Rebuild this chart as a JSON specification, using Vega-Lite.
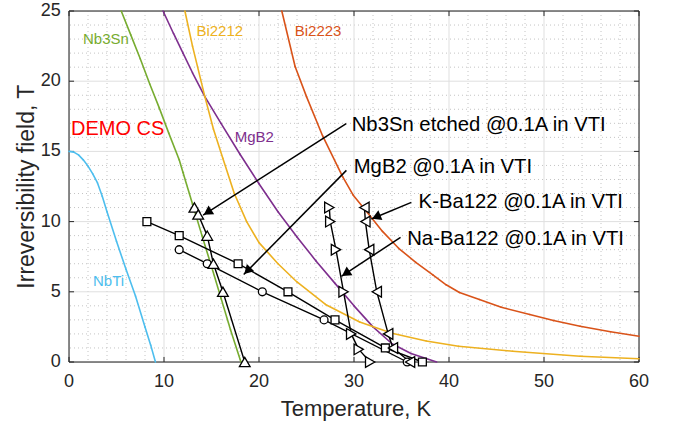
{
  "$schema": "https://vega.github.io/schema/vega-lite/v6.json",
  "width": 570,
  "height": 351,
  "autosize": {"type": "none"},
  "padding": {"left": 69, "top": 11, "right": 36, "bottom": 66},
  "datasets": {
    "curves": [
      {"sc": "NbTi", "T": 0, "H": 15}, {"sc": "NbTi", "T": 0.5, "H": 14.95}, {"sc": "NbTi", "T": 1, "H": 14.75},
      {"sc": "NbTi", "T": 1.5, "H": 14.4}, {"sc": "NbTi", "T": 2, "H": 13.95}, {"sc": "NbTi", "T": 2.5, "H": 13.4},
      {"sc": "NbTi", "T": 3, "H": 12.75}, {"sc": "NbTi", "T": 3.5, "H": 11.8}, {"sc": "NbTi", "T": 4, "H": 10.7},
      {"sc": "NbTi", "T": 5, "H": 8.6}, {"sc": "NbTi", "T": 6, "H": 6.6}, {"sc": "NbTi", "T": 7, "H": 4.7},
      {"sc": "NbTi", "T": 8, "H": 2.5}, {"sc": "NbTi", "T": 8.6, "H": 1.2}, {"sc": "NbTi", "T": 9.1, "H": 0},

      {"sc": "Nb3Sn", "T": 5.5, "H": 25}, {"sc": "Nb3Sn", "T": 6.5, "H": 23.3}, {"sc": "Nb3Sn", "T": 7.5, "H": 21.6},
      {"sc": "Nb3Sn", "T": 8.5, "H": 19.8}, {"sc": "Nb3Sn", "T": 9.5, "H": 18.1}, {"sc": "Nb3Sn", "T": 10.5, "H": 16.3},
      {"sc": "Nb3Sn", "T": 11.6, "H": 14.4}, {"sc": "Nb3Sn", "T": 12, "H": 13.5}, {"sc": "Nb3Sn", "T": 13, "H": 11.25},
      {"sc": "Nb3Sn", "T": 14, "H": 9.0}, {"sc": "Nb3Sn", "T": 15, "H": 6.8}, {"sc": "Nb3Sn", "T": 16, "H": 4.55},
      {"sc": "Nb3Sn", "T": 17, "H": 2.3}, {"sc": "Nb3Sn", "T": 18.1, "H": 0},

      {"sc": "MgB2", "T": 9.9, "H": 25}, {"sc": "MgB2", "T": 11, "H": 23.4}, {"sc": "MgB2", "T": 12, "H": 22.0},
      {"sc": "MgB2", "T": 13, "H": 20.6}, {"sc": "MgB2", "T": 14.3, "H": 18.9}, {"sc": "MgB2", "T": 16, "H": 17.0},
      {"sc": "MgB2", "T": 18, "H": 14.8}, {"sc": "MgB2", "T": 20, "H": 12.7}, {"sc": "MgB2", "T": 22, "H": 10.7},
      {"sc": "MgB2", "T": 24, "H": 8.9}, {"sc": "MgB2", "T": 26, "H": 7.2}, {"sc": "MgB2", "T": 28, "H": 5.6},
      {"sc": "MgB2", "T": 30, "H": 4.0}, {"sc": "MgB2", "T": 32, "H": 2.5}, {"sc": "MgB2", "T": 34, "H": 1.3},
      {"sc": "MgB2", "T": 36, "H": 0.6}, {"sc": "MgB2", "T": 38.7, "H": 0},

      {"sc": "Bi2212", "T": 12.2, "H": 25}, {"sc": "Bi2212", "T": 13, "H": 22.5}, {"sc": "Bi2212", "T": 14.3, "H": 18.9},
      {"sc": "Bi2212", "T": 15.2, "H": 16.6}, {"sc": "Bi2212", "T": 16.2, "H": 14.5}, {"sc": "Bi2212", "T": 17.4, "H": 12.0},
      {"sc": "Bi2212", "T": 18.7, "H": 10.0}, {"sc": "Bi2212", "T": 20, "H": 8.5}, {"sc": "Bi2212", "T": 22, "H": 7.0},
      {"sc": "Bi2212", "T": 24, "H": 5.7}, {"sc": "Bi2212", "T": 27, "H": 4.1}, {"sc": "Bi2212", "T": 30.6, "H": 2.85},
      {"sc": "Bi2212", "T": 34, "H": 2.05}, {"sc": "Bi2212", "T": 37.6, "H": 1.5}, {"sc": "Bi2212", "T": 41, "H": 1.12},
      {"sc": "Bi2212", "T": 46.7, "H": 0.77}, {"sc": "Bi2212", "T": 53.8, "H": 0.41}, {"sc": "Bi2212", "T": 60, "H": 0.23},

      {"sc": "Bi2223", "T": 22.4, "H": 25}, {"sc": "Bi2223", "T": 23.8, "H": 21.05}, {"sc": "Bi2223", "T": 25, "H": 18.9},
      {"sc": "Bi2223", "T": 26.7, "H": 16.1}, {"sc": "Bi2223", "T": 28.8, "H": 13.2}, {"sc": "Bi2223", "T": 29.9, "H": 11.9},
      {"sc": "Bi2223", "T": 31.7, "H": 10.4}, {"sc": "Bi2223", "T": 33, "H": 9.3}, {"sc": "Bi2223", "T": 34.7, "H": 8.1},
      {"sc": "Bi2223", "T": 36.5, "H": 7.1}, {"sc": "Bi2223", "T": 38.3, "H": 6.2}, {"sc": "Bi2223", "T": 39.7, "H": 5.5},
      {"sc": "Bi2223", "T": 41.1, "H": 4.95}, {"sc": "Bi2223", "T": 43.2, "H": 4.45}, {"sc": "Bi2223", "T": 45.5, "H": 3.9},
      {"sc": "Bi2223", "T": 48.5, "H": 3.38}, {"sc": "Bi2223", "T": 51, "H": 2.95}, {"sc": "Bi2223", "T": 53.8, "H": 2.55},
      {"sc": "Bi2223", "T": 57, "H": 2.15}, {"sc": "Bi2223", "T": 60, "H": 1.84}
    ],
    "meas": [
      {"s": "Nb3Sn etched", "T": 13.2, "H": 11}, {"s": "Nb3Sn etched", "T": 13.6, "H": 10.5},
      {"s": "Nb3Sn etched", "T": 14.55, "H": 9}, {"s": "Nb3Sn etched", "T": 15.2, "H": 7},
      {"s": "Nb3Sn etched", "T": 16.2, "H": 5}, {"s": "Nb3Sn etched", "T": 18.5, "H": 0},

      {"s": "MgB2 A", "T": 8.2, "H": 10}, {"s": "MgB2 A", "T": 11.6, "H": 9}, {"s": "MgB2 A", "T": 17.8, "H": 7},
      {"s": "MgB2 A", "T": 23.05, "H": 5}, {"s": "MgB2 A", "T": 28.0, "H": 3}, {"s": "MgB2 A", "T": 33.3, "H": 1},
      {"s": "MgB2 A", "T": 37.2, "H": 0},

      {"s": "MgB2 B", "T": 11.6, "H": 8}, {"s": "MgB2 B", "T": 14.55, "H": 7}, {"s": "MgB2 B", "T": 20.35, "H": 5},
      {"s": "MgB2 B", "T": 26.85, "H": 3}, {"s": "MgB2 B", "T": 35.6, "H": 0},

      {"s": "Na-Ba122", "T": 27.4, "H": 11}, {"s": "Na-Ba122", "T": 27.5, "H": 10}, {"s": "Na-Ba122", "T": 28.1, "H": 8},
      {"s": "Na-Ba122", "T": 28.9, "H": 5}, {"s": "Na-Ba122", "T": 29.7, "H": 2}, {"s": "Na-Ba122", "T": 30.5, "H": 0.9},
      {"s": "Na-Ba122", "T": 31.7, "H": 0},

      {"s": "K-Ba122", "T": 31.1, "H": 11}, {"s": "K-Ba122", "T": 31.2, "H": 10}, {"s": "K-Ba122", "T": 31.6, "H": 8},
      {"s": "K-Ba122", "T": 32.4, "H": 5}, {"s": "K-Ba122", "T": 33.6, "H": 2}, {"s": "K-Ba122", "T": 34.1, "H": 1},
      {"s": "K-Ba122", "T": 35.9, "H": 0}
    ],
    "arrows": [
      {"lab": "Nb3Sn etched @0.1A in VTI", "x1": 29.18, "y1": 16.97, "x2": 14.12, "y2": 10.46, "tx": 29.76, "ty": 16.9},
      {"lab": "MgB2 @0.1A in VTI", "x1": 29.2, "y1": 13.65, "x2": 18.39, "y2": 6.23, "tx": 29.97, "ty": 13.9},
      {"lab": "K-Ba122 @0.1A in VTI", "x1": 36.04, "y1": 11.37, "x2": 31.83, "y2": 10.19, "tx": 36.8, "ty": 11.37},
      {"lab": "Na-Ba122 @0.1A in VTI", "x1": 34.9, "y1": 8.88, "x2": 28.67, "y2": 6.1, "tx": 35.6, "ty": 8.77}
    ],
    "curvelabels": [
      {"sc": "Nb3Sn", "T": 1.47, "H": 23.0},
      {"sc": "Bi2212", "T": 13.41, "H": 23.6},
      {"sc": "Bi2223", "T": 23.76, "H": 23.6},
      {"sc": "MgB2", "T": 17.44, "H": 16.0},
      {"sc": "NbTi", "T": 2.53, "H": 5.8}
    ],
    "demo": [
      {"name": "DEMO CS", "T": 4.9, "H": 18.0, "lT": 5.12, "lH": 16.58}
    ],
    "gridx": [
      {"v": 2}, {"v": 4}, {"v": 6}, {"v": 8}, {"v": 12}, {"v": 14}, {"v": 16}, {"v": 18}, {"v": 22}, {"v": 24}, {"v": 26}, {"v": 28},
      {"v": 32}, {"v": 34}, {"v": 36}, {"v": 38}, {"v": 42}, {"v": 44}, {"v": 46}, {"v": 48}, {"v": 52}, {"v": 54}, {"v": 56}, {"v": 58}
    ],
    "gridy": [
      {"v": 1}, {"v": 2}, {"v": 3}, {"v": 4}, {"v": 6}, {"v": 7}, {"v": 8}, {"v": 9}, {"v": 11}, {"v": 12}, {"v": 13}, {"v": 14},
      {"v": 16}, {"v": 17}, {"v": 18}, {"v": 19}, {"v": 21}, {"v": 22}, {"v": 23}, {"v": 24}
    ],
    "xticks": [{"v": 0, "lab": "0"}, {"v": 10, "lab": "10"}, {"v": 20, "lab": "20"}, {"v": 30, "lab": "30"}, {"v": 40, "lab": "40"}, {"v": 50, "lab": "50"}, {"v": 60, "lab": "60"}],
    "yticks": [{"v": 0, "lab": "0"}, {"v": 5, "lab": "5"}, {"v": 10, "lab": "10"}, {"v": 15, "lab": "15"}, {"v": 20, "lab": "20"}, {"v": 25, "lab": "25"}],
    "xframe": [{"v": 0}, {"v": 60}],
    "yframe": [{"v": 0}, {"v": 25}],
    "titles": [{"t": "Temperature, K"}],
    "ytitles": [{"t": "Irreversibility field, T"}]
  },
  "layer": [
    {
      "data": {"name": "gridx"},
      "mark": {"type": "rule", "color": "#c4c4c4", "strokeWidth": 1, "strokeDash": [1, 3]},
      "encoding": {
        "x": {"field": "v", "type": "quantitative", "scale": {"domain": [0, 60], "nice": false, "zero": false}, "axis": null}
      }
    },
    {
      "data": {"name": "gridy"},
      "mark": {"type": "rule", "color": "#c4c4c4", "strokeWidth": 1, "strokeDash": [1, 3]},
      "encoding": {
        "y": {"field": "v", "type": "quantitative", "scale": {"domain": [0, 25], "nice": false, "zero": false}, "axis": null}
      }
    },
    {
      "data": {"name": "xticks"},
      "mark": {"type": "rule", "color": "#dfdfdf", "strokeWidth": 1},
      "encoding": {"x": {"field": "v", "type": "quantitative", "axis": null}}
    },
    {
      "data": {"name": "yticks"},
      "mark": {"type": "rule", "color": "#dfdfdf", "strokeWidth": 1},
      "encoding": {"y": {"field": "v", "type": "quantitative", "axis": null}}
    },
    {
      "data": {"name": "xframe"},
      "mark": {"type": "rule", "color": "#262626", "strokeWidth": 1},
      "encoding": {"x": {"field": "v", "type": "quantitative", "axis": null}}
    },
    {
      "data": {"name": "yframe"},
      "mark": {"type": "rule", "color": "#262626", "strokeWidth": 1},
      "encoding": {"y": {"field": "v", "type": "quantitative", "axis": null}}
    },
    {
      "data": {"name": "xticks"},
      "mark": {"type": "rule", "color": "#262626", "strokeWidth": 1},
      "encoding": {
        "x": {"field": "v", "type": "quantitative", "axis": null},
        "y": {"datum": 0, "type": "quantitative", "axis": null},
        "y2": {"datum": 0.36}
      }
    },
    {
      "data": {"name": "xticks"},
      "mark": {"type": "rule", "color": "#262626", "strokeWidth": 1},
      "encoding": {
        "x": {"field": "v", "type": "quantitative", "axis": null},
        "y": {"datum": 25, "type": "quantitative", "axis": null},
        "y2": {"datum": 24.64}
      }
    },
    {
      "data": {"name": "yticks"},
      "mark": {"type": "rule", "color": "#262626", "strokeWidth": 1},
      "encoding": {
        "y": {"field": "v", "type": "quantitative", "axis": null},
        "x": {"datum": 0, "type": "quantitative", "axis": null},
        "x2": {"datum": 0.53}
      }
    },
    {
      "data": {"name": "yticks"},
      "mark": {"type": "rule", "color": "#262626", "strokeWidth": 1},
      "encoding": {
        "y": {"field": "v", "type": "quantitative", "axis": null},
        "x": {"datum": 60, "type": "quantitative", "axis": null},
        "x2": {"datum": 59.47}
      }
    },
    {
      "data": {"name": "xticks"},
      "mark": {"type": "text", "align": "center", "baseline": "middle", "fontSize": 18, "color": "#262626", "font": "Liberation Sans"},
      "encoding": {
        "x": {"field": "v", "type": "quantitative", "axis": null},
        "y": {"datum": -1.46, "type": "quantitative", "axis": null},
        "text": {"field": "lab", "type": "nominal"}
      }
    },
    {
      "data": {"name": "yticks"},
      "mark": {"type": "text", "align": "right", "baseline": "middle", "fontSize": 18, "color": "#262626", "font": "Liberation Sans"},
      "encoding": {
        "x": {"datum": -0.87, "type": "quantitative", "axis": null},
        "y": {"field": "v", "type": "quantitative", "axis": null},
        "text": {"field": "lab", "type": "nominal"}
      }
    },
    {
      "data": {"name": "titles"},
      "mark": {"type": "text", "align": "center", "baseline": "middle", "fontSize": 22, "color": "#262626", "font": "Liberation Sans"},
      "encoding": {
        "x": {"datum": 30.2, "type": "quantitative", "axis": null},
        "y": {"datum": -3.38, "type": "quantitative", "axis": null},
        "text": {"field": "t", "type": "nominal"}
      }
    },
    {
      "data": {"name": "ytitles"},
      "mark": {"type": "text", "align": "center", "baseline": "middle", "fontSize": 23, "color": "#262626", "font": "Liberation Sans", "angle": 270},
      "encoding": {
        "x": {"datum": -4.45, "type": "quantitative", "axis": null},
        "y": {"datum": 12.49, "type": "quantitative", "axis": null},
        "text": {"field": "t", "type": "nominal"}
      }
    },
    {
      "data": {"name": "curves"},
      "transform": [
        {"window": [{"op": "lead", "field": "T", "as": "T2"}, {"op": "lead", "field": "H", "as": "H2"}], "groupby": ["sc"], "sort": [{"field": "T", "order": "ascending"}]},
        {"filter": "datum.T2 != null"}
      ],
      "mark": {"type": "rule", "strokeWidth": 1.6, "strokeCap": "round"},
      "encoding": {
        "x": {"field": "T", "type": "quantitative", "axis": null},
        "y": {"field": "H", "type": "quantitative", "axis": null},
        "x2": {"field": "T2"},
        "y2": {"field": "H2"},
        "color": {
          "field": "sc", "type": "nominal",
          "scale": {"domain": ["NbTi", "Nb3Sn", "MgB2", "Bi2212", "Bi2223"], "range": ["#4DBEEE", "#77AC30", "#7E2F8E", "#EDB120", "#D95319"]},
          "legend": null
        }
      }
    },
    {
      "data": {"name": "meas"},
      "transform": [
        {"window": [{"op": "lead", "field": "T", "as": "T2"}, {"op": "lead", "field": "H", "as": "H2"}], "groupby": ["s"], "sort": [{"field": "T", "order": "ascending"}]},
        {"filter": "datum.T2 != null"}
      ],
      "mark": {"type": "rule", "color": "black", "strokeWidth": 1.4, "strokeCap": "round"},
      "encoding": {
        "x": {"field": "T", "type": "quantitative", "axis": null},
        "y": {"field": "H", "type": "quantitative", "axis": null},
        "x2": {"field": "T2"},
        "y2": {"field": "H2"}
      }
    },
    {
      "data": {"name": "meas"},
      "transform": [{"filter": "datum.s === 'MgB2 A' || datum.s === 'MgB2 B'"}],
      "mark": {"type": "point", "filled": true, "fill": "white", "stroke": "black", "strokeWidth": 1.3, "opacity": 1, "size": 62},
      "encoding": {
        "x": {"field": "T", "type": "quantitative", "axis": null},
        "y": {"field": "H", "type": "quantitative", "axis": null},
        "shape": {
          "field": "s", "type": "nominal",
          "scale": {"domain": ["Nb3Sn etched", "MgB2 A", "MgB2 B", "Na-Ba122", "K-Ba122"], "range": ["triangle-up", "square", "circle", "triangle-right", "triangle-left"]},
          "legend": null
        }
      }
    },
    {
      "data": {"name": "meas"},
      "transform": [{"filter": "datum.s !== 'MgB2 A' && datum.s !== 'MgB2 B'"}],
      "mark": {"type": "point", "filled": true, "fill": "white", "stroke": "black", "strokeWidth": 1.3, "opacity": 1, "size": 115},
      "encoding": {
        "x": {"field": "T", "type": "quantitative", "axis": null},
        "y": {"field": "H", "type": "quantitative", "axis": null},
        "shape": {"field": "s", "type": "nominal", "legend": null}
      }
    },
    {
      "data": {"name": "arrows"},
      "mark": {"type": "rule", "color": "black", "strokeWidth": 1.5},
      "encoding": {
        "x": {"field": "x1", "type": "quantitative", "axis": null},
        "y": {"field": "y1", "type": "quantitative", "axis": null},
        "x2": {"field": "x2"},
        "y2": {"field": "y2"}
      }
    },
    {
      "data": {"name": "arrows"},
      "transform": [{"filter": "datum.lab === 'Nb3Sn etched @0.1A in VTI'"}],
      "mark": {"type": "point", "filled": true, "color": "black", "opacity": 1, "shape": "triangle-right", "size": 110, "angle": 147.4, "xOffset": 4.4, "yOffset": -2.8},
      "encoding": {"x": {"field": "x2", "type": "quantitative", "axis": null}, "y": {"field": "y2", "type": "quantitative", "axis": null}}
    },
    {
      "data": {"name": "arrows"},
      "transform": [{"filter": "datum.lab === 'MgB2 @0.1A in VTI'"}],
      "mark": {"type": "point", "filled": true, "color": "black", "opacity": 1, "shape": "triangle-right", "size": 110, "angle": 134.6, "xOffset": 3.7, "yOffset": -3.7},
      "encoding": {"x": {"field": "x2", "type": "quantitative", "axis": null}, "y": {"field": "y2", "type": "quantitative", "axis": null}}
    },
    {
      "data": {"name": "arrows"},
      "transform": [{"filter": "datum.lab === 'K-Ba122 @0.1A in VTI'"}],
      "mark": {"type": "point", "filled": true, "color": "black", "opacity": 1, "shape": "triangle-right", "size": 110, "angle": 157.5, "xOffset": 4.8, "yOffset": -2.0},
      "encoding": {"x": {"field": "x2", "type": "quantitative", "axis": null}, "y": {"field": "y2", "type": "quantitative", "axis": null}}
    },
    {
      "data": {"name": "arrows"},
      "transform": [{"filter": "datum.lab === 'Na-Ba122 @0.1A in VTI'"}],
      "mark": {"type": "point", "filled": true, "color": "black", "opacity": 1, "shape": "triangle-right", "size": 110, "angle": 146.6, "xOffset": 4.4, "yOffset": -2.9},
      "encoding": {"x": {"field": "x2", "type": "quantitative", "axis": null}, "y": {"field": "y2", "type": "quantitative", "axis": null}}
    },
    {
      "data": {"name": "arrows"},
      "mark": {"type": "text", "align": "left", "baseline": "middle", "fontSize": 20.3, "color": "#000000", "font": "Liberation Sans"},
      "encoding": {
        "x": {"field": "tx", "type": "quantitative", "axis": null},
        "y": {"field": "ty", "type": "quantitative", "axis": null},
        "text": {"field": "lab"}
      }
    },
    {
      "data": {"name": "curvelabels"},
      "mark": {"type": "text", "align": "left", "baseline": "middle", "fontSize": 15, "font": "Liberation Sans"},
      "encoding": {
        "x": {"field": "T", "type": "quantitative", "axis": null},
        "y": {"field": "H", "type": "quantitative", "axis": null},
        "text": {"field": "sc"},
        "color": {"field": "sc", "type": "nominal", "legend": null}
      }
    },
    {
      "data": {"name": "demo"},
      "mark": {"type": "text", "align": "center", "baseline": "middle", "fontSize": 20, "color": "#FF0000", "font": "Liberation Sans"},
      "encoding": {
        "x": {"field": "lT", "type": "quantitative", "axis": null},
        "y": {"field": "lH", "type": "quantitative", "axis": null},
        "text": {"field": "name"}
      }
    },
    {
      "data": {"name": "demo"},
      "mark": {"type": "point", "shape": "star", "filled": true, "color": "#FF0000", "opacity": 1, "size": 220},
      "encoding": {
        "x": {"field": "T", "type": "quantitative", "axis": null},
        "y": {"field": "H", "type": "quantitative", "axis": null}
      }
    }
  ]
}
